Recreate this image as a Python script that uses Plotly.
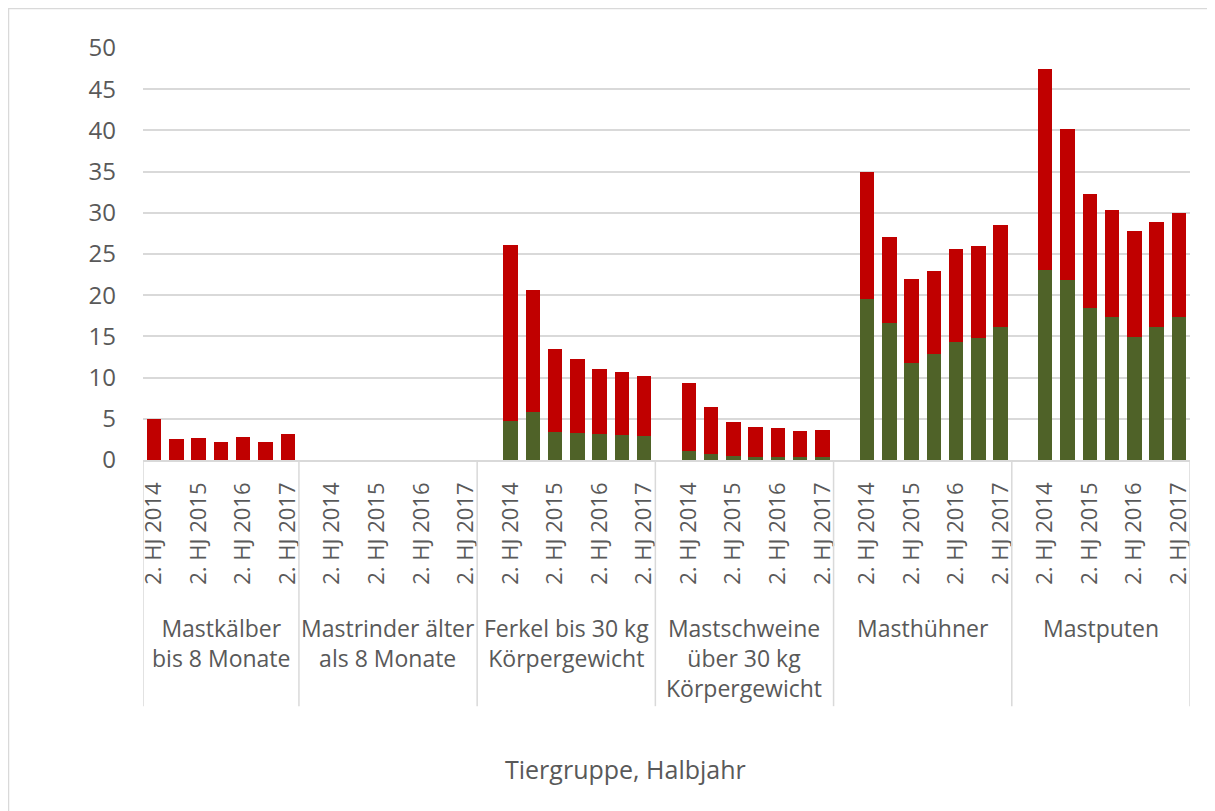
import plotly.graph_objects as go

# ---------------- data ----------------
groups = [
    "Mastkälber<br>bis 8 Monate",
    "Mastrinder älter<br>als 8 Monate",
    "Ferkel bis 30 kg<br>Körpergewicht",
    "Mastschweine<br>über 30 kg<br>Körpergewicht",
    "Masthühner",
    "Mastputen",
]
periods = ["2. HJ 2014", "1. HJ 2015", "2. HJ 2015", "1. HJ 2016",
           "2. HJ 2016", "1. HJ 2017", "2. HJ 2017"]

# lower (green) segment per group
green_vals = [
    [0, 0, 0, 0, 0, 0, 0],
    [0, 0, 0, 0, 0, 0, 0],
    [4.7, 5.8, 3.4, 3.3, 3.1, 3.0, 2.9],
    [1.1, 0.75, 0.5, 0.42, 0.42, 0.34, 0.4],
    [19.5, 16.6, 11.8, 12.9, 14.3, 14.8, 16.2],
    [23.0, 21.8, 18.4, 17.4, 14.9, 16.1, 17.4],
]
# upper (red) segment per group
red_vals = [
    [5.0, 2.6, 2.7, 2.2, 2.85, 2.15, 3.1],
    [0, 0, 0, 0, 0, 0, 0],
    [21.4, 14.8, 10.1, 8.9, 8.0, 7.7, 7.3],
    [8.3, 5.7, 4.1, 3.55, 3.5, 3.2, 3.3],
    [15.5, 10.5, 10.2, 10.0, 11.3, 11.2, 12.3],
    [24.5, 18.4, 13.9, 12.9, 12.9, 12.8, 12.6],
]
y_ticks = [0, 5, 10, 15, 20, 25, 30, 35, 40, 45, 50]
x_title = "Tiergruppe, Halbjahr"

# ---------------- styling ----------------
GREEN = "#4F6228"
RED = "#C00000"
TXT = "#595959"
GRID = "#D9D9D9"
FONT = "Open Sans"
FS_XTICK = 22
FS_YTICK = 24
FS_GROUP = 23
FS_TITLE = 25

xs, gs, rs, labels = [], [], [], []
bounds = [-0.5]
centers = []
pos = 0
for gi, name in enumerate(groups):
    start = pos
    if gi > 0:
        # empty leading slot as in the original category axis
        labels.append((pos, ""))
        pos += 1
    for pi, p in enumerate(periods):
        xs.append(pos)
        gs.append(green_vals[gi][pi])
        rs.append(red_vals[gi][pi])
        labels.append((pos, p))
        pos += 1
    bounds.append(pos - 0.5)
    centers.append((start - 0.5 + pos - 0.5) / 2)

tickvals = [p for p, t in labels if p % 2 == 0]
ticktext = [t for p, t in labels if p % 2 == 0]

fig = go.Figure()
fig.add_trace(go.Bar(x=xs, y=gs, marker=dict(color=GREEN, line=dict(width=0)),
                     showlegend=False))
fig.add_trace(go.Bar(x=xs, y=rs, marker=dict(color=RED, line=dict(width=0)),
                     showlegend=False))

# page body has an 8px offset; figure coords = screen coords - 8
OFF = 8
W, H = 1215, 811
L, T = 143 - OFF, 48 - OFF
R = W - (1190 - OFF)
B = H - (460.5 - OFF)
pw, ph = W - L - R, H - T - B


def px_to_paper_x(px):
    return (px - OFF - L) / pw


def py_to_paper_y(py):
    return (H - B - (py - OFF)) / ph


shapes = []
for b in bounds:
    shapes.append(dict(type="line", xref="x", yref="paper", x0=b, x1=b,
                       y0=0, y1=py_to_paper_y(707),
                       line=dict(color=GRID, width=1.5)))
# outer chart border
shapes.append(dict(type="rect", xref="paper", yref="paper",
                   x0=px_to_paper_x(8.5), x1=px_to_paper_x(1240),
                   y0=py_to_paper_y(840), y1=py_to_paper_y(8.5),
                   line=dict(color=GRID, width=1.5), layer="below"))

annotations = []
for c, name in zip(centers, groups):
    annotations.append(dict(x=c, xref="x", y=py_to_paper_y(611), yref="paper",
                            text=name, showarrow=False, yanchor="top",
                            xanchor="center",
                            font=dict(family=FONT, size=FS_GROUP, color=TXT)))
annotations.append(dict(x=px_to_paper_x(625), xref="paper",
                        y=py_to_paper_y(770), yref="paper",
                        text=x_title, showarrow=False, yanchor="middle",
                        xanchor="center",
                        font=dict(family=FONT, size=FS_TITLE, color=TXT)))

fig.update_layout(
    width=W, height=H,
    margin=dict(l=L, r=R, t=T, b=B, pad=0),
    barmode="stack",
    bargap=0.35,
    plot_bgcolor="white",
    paper_bgcolor="white",
    font=dict(family=FONT, size=FS_YTICK, color=TXT),
    shapes=shapes,
    annotations=annotations,
)
fig.update_xaxes(range=[-0.5, pos - 0.5], tickvals=tickvals, ticktext=ticktext,
                 tickangle=-90, showgrid=False, showline=True,
                 linecolor=GRID, linewidth=1.5, ticks="",
                 ticklabelstandoff=12,
                 tickfont=dict(family=FONT, size=FS_XTICK, color=TXT),
                 zeroline=False)
fig.update_yaxes(range=[0, 50], tickvals=y_ticks, showgrid=True,
                 gridcolor=GRID, gridwidth=1.5, zeroline=False,
                 showline=False, ticks="", ticklabelstandoff=26,
                 tickfont=dict(family=FONT, size=FS_YTICK, color=TXT))

fig.write_html("out.html")
